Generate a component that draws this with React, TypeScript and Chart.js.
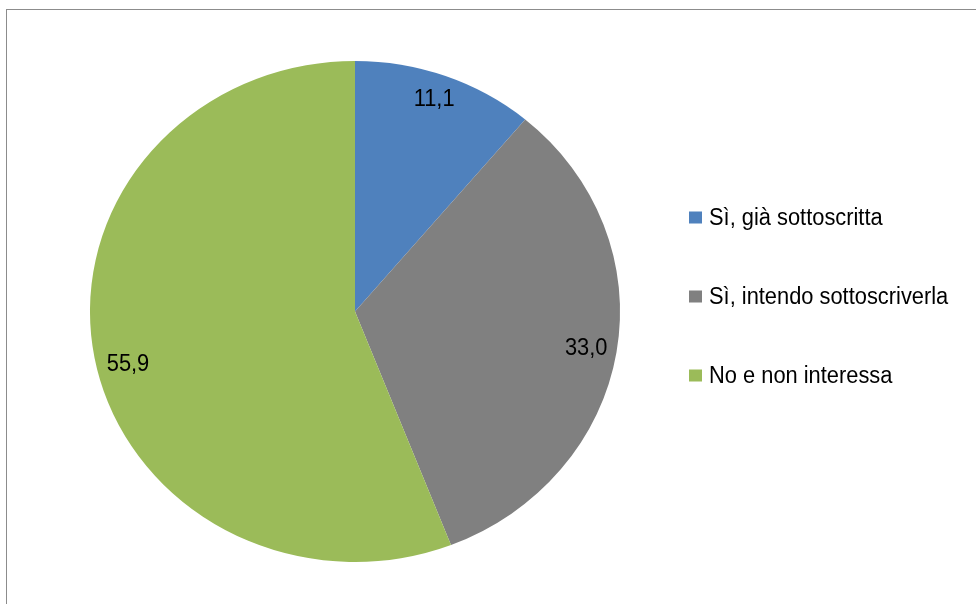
import React, { useEffect, useRef } from "react";
import { Chart, registerables } from "chart.js";

Chart.register(...registerables);

const categories = ["Sì, già sottoscritta", "Sì, intendo sottoscriverla", "No e non interessa"];
const values = [11.1, 33.0, 55.9];
const colors = ["#4F81BD", "#808080", "#9BBB59"];

const FONT = "'Liberation Sans', Arial, sans-serif";
const PIE_STRETCH_X = 1.058;
const TEXT_SCALE_X = 0.95;
// label placement tweaks (angle shift in degrees, radius fraction) per slice
const LABEL_PLACEMENT = [
  { shift: -0.5, rf: 0.895 },
  { shift: 0.4, rf: 0.885 },
  { shift: -3.2, rf: 0.882 },
];

function fmt(v: number) {
  return v.toFixed(1).replace(".", ",");
}

function drawText(ctx: CanvasRenderingContext2D, text: string, x: number, y: number, align: CanvasTextAlign) {
  ctx.save();
  ctx.translate(x, y);
  ctx.scale(TEXT_SCALE_X, 1);
  ctx.textAlign = align;
  ctx.fillText(text, 0, 0);
  ctx.restore();
}

const framePlugin = {
  id: "frame",
  beforeDraw(chart: any) {
    const ctx = chart.ctx;
    ctx.save();
    ctx.fillStyle = "#ffffff";
    ctx.fillRect(0, 0, chart.width, chart.height);
    ctx.strokeStyle = "#8C8C8C";
    ctx.lineWidth = 1;
    ctx.strokeRect(6.5, 9.5, 1200, 1200);
    ctx.restore();
  },
};

const stretchPlugin = {
  id: "stretch",
  beforeDatasetsDraw(chart: any) {
    const meta = chart.getDatasetMeta(0);
    const arc = meta.data[0];
    const ctx = chart.ctx;
    ctx.save();
    ctx.translate(arc.x, arc.y);
    ctx.scale(PIE_STRETCH_X, 1);
    ctx.translate(-arc.x, -arc.y);
  },
  afterDatasetsDraw(chart: any) {
    chart.ctx.restore();
  },
};

const labelPlugin = {
  id: "sliceLabels",
  afterDatasetsDraw(chart: any) {
    const ctx = chart.ctx;
    const meta = chart.getDatasetMeta(0);
    ctx.save();
    ctx.fillStyle = "#000000";
    ctx.font = `23px ${FONT}`;
    ctx.textBaseline = "middle";
    meta.data.forEach((arc: any, i: number) => {
      const p = LABEL_PLACEMENT[i];
      const mid = (arc.startAngle + arc.endAngle) / 2 + (p.shift * Math.PI) / 180;
      const r = arc.outerRadius * p.rf;
      const x = arc.x + Math.cos(mid) * r * PIE_STRETCH_X;
      const y = arc.y + Math.sin(mid) * r;
      drawText(ctx, fmt(values[i]), x, y, "center");
    });
    ctx.restore();
  },
};

const legendPlugin = {
  id: "customLegend",
  afterDraw(chart: any) {
    const ctx = chart.ctx;
    ctx.save();
    ctx.font = `23px ${FONT}`;
    ctx.textBaseline = "middle";
    const x0 = 689;
    const y0 = 217.5;
    const step = 79;
    categories.forEach((c, i) => {
      const cy = y0 + i * step;
      ctx.fillStyle = colors[i];
      ctx.fillRect(x0, cy - 6, 13, 12);
      ctx.fillStyle = "#000000";
      drawText(ctx, c, 709, cy + 1, "left");
    });
    ctx.restore();
  },
};

export default function App() {
  const ref = useRef<HTMLCanvasElement | null>(null);
  useEffect(() => {
    if (!ref.current) return;
    const chart = new Chart(ref.current, {
      type: "pie",
      data: {
        labels: categories,
        datasets: [
          {
            data: values,
            backgroundColor: colors,
            borderWidth: 0,
          },
        ],
      },
      options: {
        responsive: false,
        animation: false,
        devicePixelRatio: 1,
        radius: 250.5,
        layout: { padding: { left: 104.5, right: 370.5, top: 61, bottom: 42 } },
        plugins: {
          legend: { display: false },
          tooltip: { enabled: false },
        },
        events: [],
      } as any,
      plugins: [framePlugin, stretchPlugin, labelPlugin, legendPlugin],
    });
    return () => chart.destroy();
  }, []);
  return (
    <div style={{ position: "absolute", left: 0, top: 0, width: 976, height: 604, overflow: "hidden", background: "#fff" }}>
      <canvas ref={ref} width={976} height={604} style={{ display: "block", width: 976, height: 604 }} />
    </div>
  );
}
